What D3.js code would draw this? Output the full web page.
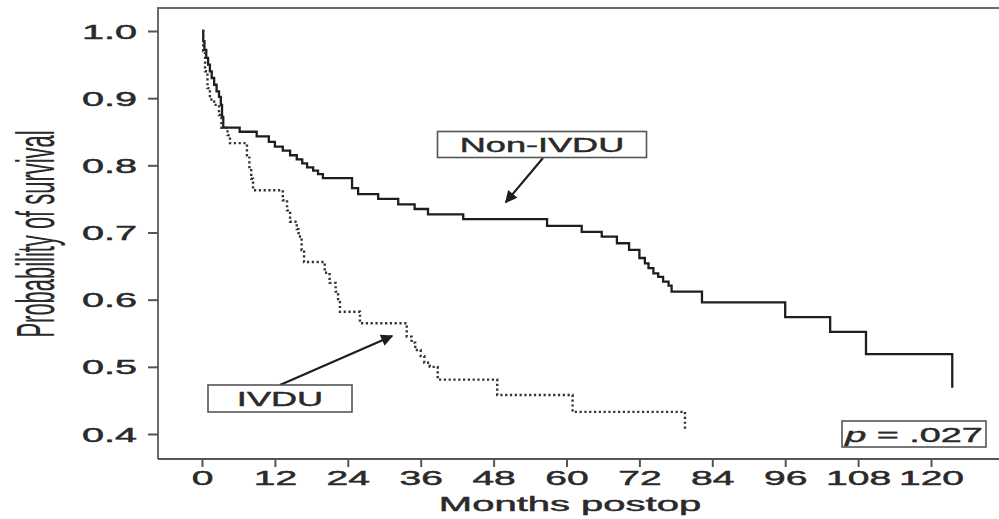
<!DOCTYPE html>
<html><head><meta charset="utf-8">
<script src="https://cdn.jsdelivr.net/npm/d3@7"></script>
<style>body{margin:0;background:#fff}svg{display:block}text{font-family:"Liberation Sans",Arial,sans-serif;fill:#2a2a2a}</style>
</head><body>
<svg id="chart" width="999" height="519"></svg>
<script>
// Data
const nonIvduMonths = [0,0.2,0.4,0.7,1.0,1.3,1.6,2.0,2.4,2.8,3.1,3.3,3.5,6.2,9.0,11.0,12.0,13.3,14.5,15.6,16.5,17.3,18.3,19.1,19.9,24.7,25.7,29.0,32.3,35.0,37.2,43.0,56.8,62.5,65.8,68.3,70.3,72.0,72.9,73.5,74.3,75.1,75.9,76.8,77.3,82.3,96.0,103.4,109.3,123.5];
const nonIvduSurv   = [1.0,0.985,0.972,0.96,0.95,0.94,0.93,0.92,0.91,0.902,0.89,0.872,0.856,0.85,0.843,0.835,0.828,0.822,0.815,0.809,0.803,0.797,0.792,0.787,0.781,0.766,0.757,0.75,0.742,0.735,0.727,0.72,0.71,0.701,0.694,0.684,0.674,0.662,0.654,0.647,0.639,0.634,0.627,0.621,0.612,0.596,0.574,0.552,0.519,0.469];
const ivduMonths = [0,0.2,0.5,0.9,1.3,2.0,2.8,3.2,4.2,4.6,7.4,7.8,8.1,8.4,13.3,14.0,14.5,15.6,15.9,16.4,16.8,20.2,21.0,22.0,22.4,22.7,26.0,33.7,34.5,35.1,36.0,36.6,37.5,38.8,48.6,61.0,79.5];
const ivduSurv   = [1.0,0.97,0.94,0.915,0.898,0.89,0.875,0.856,0.845,0.833,0.815,0.795,0.78,0.763,0.748,0.733,0.716,0.705,0.694,0.674,0.656,0.64,0.625,0.612,0.598,0.582,0.565,0.545,0.536,0.525,0.516,0.506,0.5,0.481,0.458,0.433,0.406];
const xTicks = [0,12,24,36,48,60,72,84,96,108,120];
const yTicks = [0.4,0.5,0.6,0.7,0.8,0.9,1.0];
const xTitle = "Months postop";
const yTitle = "Probability of survival";
const nonIvduLabel = "Non-IVDU";
const ivduLabel = "IVDU";
const pLabel = ".027";
// annotation arrow tips (month, survival)
const nonIvduArrowTip = [50.0, 0.745];
const ivduArrowTip = [31.3, 0.546];

const svg = d3.select("#chart");
const x = d3.scaleLinear().domain([0,120]).range([202,931]);
const y = d3.scaleLinear().domain([0.4,1.0]).range([434,31]);
const frameL = 158, frameT = 8, frameB = 459, frameR = 999;
const txtStroke = t => t.attr("stroke","#2a2a2a").attr("stroke-width",0.45);

// frame
svg.append("path").attr("d",`M${frameL},${frameB}V${frameT}H${frameR}`).attr("fill","none").attr("stroke","#6a6a6a").attr("stroke-width",2);
svg.append("path").attr("d",`M${frameL},${frameB}H${frameR}`).attr("fill","none").attr("stroke","#555").attr("stroke-width",2);

// y axis
const ya = svg.append("g").attr("transform",`translate(${frameL},0)`)
  .call(d3.axisLeft(y).tickValues(yTicks).tickFormat(d3.format(".1f")).tickSize(10).tickPadding(0));
ya.select(".domain").remove();
ya.selectAll(".tick line").attr("stroke","#555").attr("stroke-width",2);
ya.selectAll(".tick text").attr("x",null).attr("dy",null).attr("font-size",20).attr("fill","#2a2a2a")
  .attr("font-family",'"Liberation Sans",Arial,sans-serif')
  .attr("text-anchor","end").attr("transform","translate(-21,7) scale(1.98,1)").call(txtStroke);

// x axis
const xa = svg.append("g").attr("transform",`translate(0,${frameB})`)
  .call(d3.axisBottom(x).tickValues(xTicks).tickFormat(d3.format("d")).tickSize(8).tickPadding(0));
xa.select(".domain").remove();
xa.selectAll(".tick line").attr("stroke","#555").attr("stroke-width",2);
xa.selectAll(".tick text").attr("y",null).attr("dy",null).attr("font-size",20).attr("fill","#2a2a2a")
  .attr("font-family",'"Liberation Sans",Arial,sans-serif')
  .attr("text-anchor","middle").attr("transform","translate(0,26) scale(1.95,1)").call(txtStroke);

// titles
svg.append("text").attr("transform",`translate(570,511) scale(2,1)`).attr("text-anchor","middle").attr("font-size",20).text(xTitle).call(txtStroke);
svg.append("text").attr("transform",`translate(54,234) scale(2.05,1) rotate(-90)`).attr("text-anchor","middle")
  .attr("font-size",26).attr("textLength",207).attr("lengthAdjust","spacingAndGlyphs").attr("fill","#333").text(yTitle);

// curves
const line = d3.line().x(d=>x(d[0])).y(d=>y(d[1])).curve(d3.curveStepAfter);
svg.append("path").datum(nonIvduMonths.map((m,i)=>[m,nonIvduSurv[i]])).attr("d",line)
  .attr("fill","none").attr("stroke","#1e1e1e").attr("stroke-width",2.3);
svg.append("path").datum(ivduMonths.map((m,i)=>[m,ivduSurv[i]])).attr("d",line)
  .attr("fill","none").attr("stroke","#333").attr("stroke-width",2.4).attr("stroke-dasharray","2.2,2.6");

// arrow marker
svg.append("defs").append("marker").attr("id","ah").attr("viewBox","0 0 10 10").attr("refX",9).attr("refY",5)
  .attr("markerWidth",7).attr("markerHeight",5.5).attr("markerUnits","strokeWidth").attr("orient","auto")
  .append("path").attr("d","M0,0L10,5L0,10z").attr("fill","#1e1e1e");

function labelBox(cx, cy, w, h, txt, sx){
  svg.append("rect").attr("x",cx-w/2).attr("y",cy-h/2).attr("width",w).attr("height",h)
    .attr("fill","#fff").attr("stroke","#555").attr("stroke-width",1.6);
  svg.append("text").attr("transform",`translate(${cx},${cy+7.5}) scale(${sx},1)`).attr("text-anchor","middle")
    .attr("font-size",21).text(txt).call(txtStroke);
}
// Non-IVDU label & arrow
svg.append("line").attr("x1",543).attr("y1",158).attr("x2",x(nonIvduArrowTip[0])).attr("y2",y(nonIvduArrowTip[1]))
  .attr("stroke","#1e1e1e").attr("stroke-width",2.2).attr("marker-end","url(#ah)");
labelBox(542,144.5,209,26,nonIvduLabel,1.72);
// IVDU label & arrow
svg.append("line").attr("x1",280).attr("y1",385).attr("x2",x(ivduArrowTip[0])).attr("y2",y(ivduArrowTip[1]))
  .attr("stroke","#1e1e1e").attr("stroke-width",2.2).attr("marker-end","url(#ah)");
labelBox(280,398.5,144,27,ivduLabel,1.72);

// p-value box
svg.append("rect").attr("x",842).attr("y",421).attr("width",144).attr("height",26)
  .attr("fill","#fff").attr("stroke","#555").attr("stroke-width",1.6);
const pt = svg.append("text").attr("transform","translate(914,442) scale(1.8,1)").attr("text-anchor","middle").attr("font-size",21).call(txtStroke);
pt.append("tspan").attr("font-style","italic").text("p");
pt.append("tspan").text(" = " + pLabel);
</script>
</body></html>
